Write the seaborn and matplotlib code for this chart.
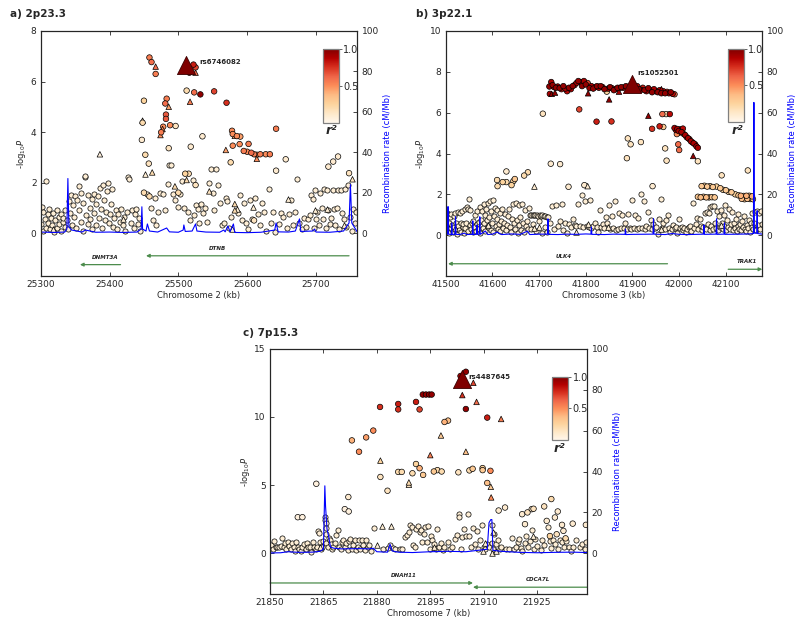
import numpy as np
import pandas as pd
import matplotlib
matplotlib.use('Agg')
import matplotlib.pyplot as plt
import seaborn as sns

# ---------------- panel a) 2p23.3 ----------------
a_sig_pos = [25458, 25461, 25467, 25467, 25522, 25525, 25525, 25516, 25512, 25523, 25532, 25552, 25570, 25517,
             25450, 25483, 25481, 25486, 25482, 25482, 25448, 25448, 25478, 25477, 25475, 25474, 25488, 25496,
             25447, 25535, 25518, 25486, 25386, 25642, 25578, 25579, 25582, 25585, 25590, 25569, 25579, 25589,
             25602, 25576, 25595, 25600, 25606, 25610, 25614, 25619, 25627, 25633, 25614, 25656, 25642, 25718,
             25732, 25725, 25753, 25748, 25462, 25457, 25452, 25450, 25458, 25510, 25515, 25512, 25525, 25495,
             25500, 25545, 25582, 25582, 25610]
a_sig_logp = [6.95, 6.77, 6.59, 6.30, 6.67, 6.56, 6.35, 6.35, 5.64, 5.57, 5.49, 5.61, 5.16, 5.20,
              5.24, 5.32, 5.13, 5.00, 4.69, 4.52, 4.45, 4.37, 4.21, 4.12, 3.99, 3.88, 4.27, 4.24,
              3.69, 3.83, 3.42, 3.36, 3.12, 4.13, 4.05, 3.92, 3.85, 3.84, 3.82, 3.29, 3.46, 3.52,
              3.53, 2.80, 3.25, 3.22, 3.18, 3.12, 3.10, 3.12, 3.12, 3.12, 2.94, 2.92, 2.47, 2.63,
              3.03, 2.83, 2.13, 2.37, 2.40, 2.75, 3.10, 1.60, 1.45, 2.35, 2.35, 2.10, 1.90, 1.85,
              1.60, 1.65, 0.90, 1.15, 0.50]
a_sig_r2 = [0.55, 0.60, 0.60, 0.55, 0.80, 0.70, 0.60, 0.90, 0.20, 0.60, 0.95, 0.70, 0.75, 0.55,
            0.25, 0.55, 0.60, 0.45, 0.65, 0.65, 0.15, 0.20, 0.50, 0.50, 0.55, 0.50, 0.50, 0.15,
            0.10, 0.10, 0.10, 0.15, 0.05, 0.55, 0.50, 0.50, 0.45, 0.50, 0.45, 0.45, 0.50, 0.50,
            0.55, 0.20, 0.55, 0.50, 0.60, 0.55, 0.50, 0.55, 0.50, 0.55, 0.50, 0.10, 0.10, 0.10,
            0.10, 0.10, 0.15, 0.15, 0.20, 0.15, 0.20, 0.20, 0.20, 0.25, 0.20, 0.20, 0.15, 0.20,
            0.20, 0.15, 0.20, 0.20, 0.15]
a_sig_kind = ['o', 'o', '^', 'o', 'o', 'o', '^', 'o', 'o', 'o', 'o', 'o', 'o', '^',
              'o', 'o', 'o', '^', 'o', 'o', '^', 'o', 'o', '^', 'o', '^', 'o', 'o',
              'o', 'o', 'o', 'o', '^', 'o', 'o', 'o', '^', 'o', 'o', '^', 'o', 'o',
              'o', 'o', 'o', 'o', 'o', 'o', 'o', 'o', 'o', 'o', '^', 'o', 'o', 'o',
              'o', 'o', '^', 'o', '^', 'o', 'o', 'o', 'o', 'o', 'o', '^', 'o', '^',
              'o', '^', '^', '^', 'o']
a_bg_pos = [25301, 25302, 25303, 25304, 25306, 25307, 25308, 25310, 25311, 25312, 25314, 25315, 25317, 25318,
            25320, 25321, 25323, 25324, 25326, 25327, 25329, 25330, 25332, 25333, 25335, 25336, 25338, 25340,
            25341, 25343, 25344, 25346, 25347, 25349, 25350, 25352, 25353, 25355, 25356, 25358, 25359, 25361,
            25362, 25364, 25365, 25366, 25368, 25369, 25371, 25372, 25374, 25375, 25377, 25378, 25380, 25381,
            25383, 25384, 25386, 25387, 25389, 25390, 25392, 25393, 25395, 25396, 25398, 25399, 25401, 25402,
            25404, 25405, 25407, 25409, 25411, 25413, 25415, 25417, 25419, 25421, 25423, 25425, 25427, 25429,
            25431, 25433, 25435, 25437, 25439, 25441, 25443, 25445,
            25454, 25460, 25463, 25466, 25468, 25471, 25474, 25478, 25481, 25485, 25487, 25490, 25492, 25495,
            25499, 25503, 25506, 25508, 25514, 25517, 25521, 25523, 25526, 25528, 25530, 25533, 25536, 25539,
            25542, 25544, 25547, 25550, 25552, 25554, 25557, 25560, 25563, 25566, 25569, 25571, 25574, 25577,
            25586, 25589, 25592, 25595, 25598, 25601, 25604, 25607, 25612, 25616, 25619, 25622, 25625, 25628,
            25631, 25634, 25637, 25640, 25646, 25649, 25652, 25658, 25661, 25664, 25667, 25670, 25673, 25676,
            25679, 25682, 25685, 25688,
            25691, 25693, 25695, 25697, 25699, 25700, 25702, 25704, 25706, 25708, 25710, 25712, 25714, 25716,
            25718, 25720, 25722, 25724, 25726, 25728, 25730, 25732, 25734, 25736, 25738, 25740, 25742, 25744,
            25746, 25749, 25752, 25754, 25756, 25758]
a_bg_logp = [0.35, 1.05, 0.10, 0.85, 0.55, 2.08, 0.20, 0.75, 0.40, 0.95, 0.15, 0.60, 0.30, 0.80,
             0.05, 0.50, 0.90, 0.20, 0.65, 0.35, 0.75, 0.10, 0.45, 0.60, 0.25, 0.90, 0.50, 0.15,
             1.25, 0.80, 1.50, 0.30, 1.10, 0.65, 1.45, 0.20, 1.30, 0.90, 1.85, 0.45, 1.60, 0.10,
             1.20, 2.20, 2.25, 0.70, 1.50, 0.35, 1.00, 0.55, 1.35, 0.15, 1.55, 0.80, 1.15, 0.30,
             1.45, 0.60, 1.80, 0.95, 0.20, 1.90, 1.30, 0.50, 0.85, 1.65, 2.00, 0.40, 0.75, 1.15,
             1.75, 0.25, 0.60, 0.90, 0.15, 0.75, 0.45, 0.95, 0.30, 0.65, 0.10, 0.85, 2.20, 2.15,
             0.40, 0.90, 0.20, 0.75, 0.95, 0.35, 0.60, 0.10,
             1.55, 1.00, 0.50, 1.40, 0.30, 0.85, 1.60, 1.55, 0.90, 1.95, 2.70, 2.70, 1.55, 1.30,
             1.05, 1.55, 2.05, 1.00, 0.85, 0.50, 2.10, 0.70, 1.10, 0.95, 0.40, 1.15, 0.80, 1.00,
             0.45, 2.00, 2.55, 1.60, 0.90, 2.55, 1.90, 1.20, 0.30, 0.40, 1.40, 1.25, 0.20, 0.65,
             0.80, 1.50, 0.50, 1.20, 0.40, 0.15, 1.30, 0.55, 1.40, 0.75, 0.30, 1.20, 0.85, 0.10,
             1.75, 0.40, 0.85, 0.05, 0.35, 0.80, 0.65, 0.20, 0.75, 1.30, 0.30, 0.85, 2.15, 0.40,
             0.15, 0.60, 0.25, 0.55,
             0.70, 1.50, 1.35, 0.20, 1.70, 0.55, 0.85, 0.30, 1.60, 1.00, 0.55, 1.75, 0.20, 1.70,
             0.90, 0.35, 0.60, 1.70, 0.95, 0.30, 1.00, 1.70, 0.15, 1.70, 0.80, 0.55, 1.75, 0.25,
             1.90, 0.65, 0.10, 0.95, 0.40, 0.85]
a_bgt_pos = [25318, 25420, 25452, 25585, 25578, 25608, 25660, 25698, 25716, 25740]
a_bgt_logp = [0.15, 0.55, 2.35, 0.95, 0.15, 1.05, 1.35, 0.90, 0.95, 0.30]
a_lead = (25511, 6.65)
a_rec_pos = [25300, 25320, 25335, 25338, 25339.5, 25341, 25345, 25360, 25365, 25380, 25400, 25420, 25440,
             25446, 25447, 25448, 25453, 25455, 25458, 25470, 25483, 25487, 25500, 25507, 25508, 25510,
             25520, 25525, 25527, 25540, 25560, 25566, 25568, 25572, 25575, 25580, 25582, 25600, 25620,
             25640, 25642, 25645, 25660, 25670, 25676, 25678, 25695, 25698, 25700, 25720, 25740, 25748,
             25750, 25752, 25760]
a_rec_rate = [0.5, 0.3, 0.5, 2.0, 27.0, 3.0, 1.5, 0.5, 1.5, 0.4, 0.5, 0.3, 0.5,
              2.0, 13.0, 2.0, 1.0, 4.5, 1.0, 0.5, 2.5, 0.6, 0.4, 1.5, 4.0, 0.8,
              1.0, 4.5, 1.0, 0.5, 0.4, 1.5, 0.6, 3.5, 0.7, 4.5, 0.3, 0.2, 0.4,
              1.5, 5.0, 0.6, 0.5, 1.0, 7.0, 0.8, 1.0, 2.0, 0.5, 0.4, 1.0, 5.0,
              24.0, 5.0, 0.5]
a_gene_names = ['DTNB', 'DNMT3A']
a_gene_start = [25453, 25357]
a_gene_end = [25748, 25416]
a_gene_strand = ['-', '-']

# ---------------- panel b) 3p22.1 ----------------
b_band_pos = [41722, 41726, 41729, 41732, 41736, 41740, 41744, 41748, 41752, 41756, 41760, 41764, 41768,
              41772, 41776, 41780, 41784, 41788, 41792, 41796, 41800, 41804, 41808, 41812, 41816, 41820,
              41824, 41828, 41832, 41836, 41840, 41845, 41848, 41852, 41856, 41860, 41864, 41868, 41872,
              41876, 41880, 41886, 41892, 41906, 41910, 41914, 41918, 41922, 41926, 41930, 41934, 41938,
              41942, 41946, 41950, 41954, 41958, 41962, 41966, 41970, 41974, 41978, 41982, 41986, 41990]
b_band_logp = [7.28, 7.50, 7.35, 7.25, 7.22, 7.28, 7.20, 7.15, 7.30, 7.18, 7.05, 7.22, 7.15,
               7.30, 7.35, 7.45, 7.55, 7.50, 7.30, 7.55, 7.38, 7.45, 7.20, 7.30, 7.18, 7.25,
               7.30, 7.22, 7.30, 7.25, 7.15, 7.03, 7.18, 7.25, 7.20, 7.10, 7.15, 7.22, 7.20,
               7.25, 7.22, 7.30, 7.25, 7.20, 7.30, 7.15, 7.12, 7.22, 7.10, 7.05, 7.20, 7.10,
               7.00, 7.15, 7.05, 7.00, 7.10, 6.95, 7.05, 6.95, 7.02, 6.95, 7.00, 6.92, 6.90]
b_band_r2 = [0.95, 0.90, 0.95, 0.85, 0.95, 0.90, 0.95, 0.80, 0.95, 0.90, 0.85, 0.95, 0.90,
             0.95, 0.80, 0.90, 0.95, 0.85, 0.95, 0.90, 0.95, 0.70, 0.95, 0.90, 0.95, 0.85,
             0.95, 0.90, 0.95, 0.85, 0.95, 0.25, 0.90, 0.95, 0.85, 0.95, 0.90, 0.95, 0.85,
             0.95, 0.90, 0.95, 0.90, 0.95, 0.85, 0.95, 0.90, 0.80, 0.95, 0.90, 0.95, 0.85,
             0.95, 0.90, 0.70, 0.95, 0.90, 0.95, 0.85, 0.95, 0.80, 0.90, 0.95, 0.85, 0.60]
b_sig_pos = [41727, 41734, 41723, 41805, 41850, 41871, 41934, 41962, 41786, 41823, 41855, 41708, 41942,
             41958, 41966, 41964, 41972, 41980, 41990, 41993, 41996, 41999, 42002, 42005, 42008, 42010,
             42013, 42016, 42019, 42022, 42025, 42028, 42031, 42034, 42037, 42040, 41995, 42000, 42030,
             41998, 42000, 42040, 41973, 41970, 41890, 41896, 41918, 41888, 41725, 41745, 41630, 41676,
             41668, 41610, 41622, 41630, 41648, 41645, 41611, 41641, 41690, 41763, 41797, 41804, 41943,
             42091, 42147, 42048, 42054, 42060, 42066, 42072, 42080, 42088, 42094, 42100, 42106, 42112,
             42120, 42127, 42040, 42046, 42052, 42058, 42064, 42070, 42076, 42132, 42138, 42144, 42150,
             42156, 42134, 42140, 42146, 42152, 42158]
b_sig_logp = [6.92, 6.98, 6.92, 6.95, 6.65, 7.03, 5.85, 7.15, 6.16, 5.56, 5.57, 5.95, 5.21,
              5.33, 5.30, 5.93, 5.93, 5.93, 5.25, 5.15, 5.20, 5.10, 5.18, 5.05, 5.22, 4.95,
              4.90, 4.80, 4.75, 4.70, 4.60, 4.55, 4.50, 4.45, 4.35, 4.28, 4.95, 5.02, 3.88,
              4.45, 4.17, 3.62, 3.65, 4.25, 4.74, 4.45, 4.56, 3.77, 3.50, 3.48, 3.12, 3.08,
              2.92, 2.70, 2.60, 2.60, 2.75, 2.65, 2.40, 2.45, 2.38, 2.37, 2.45, 2.40, 2.40,
              2.93, 3.17, 2.40, 2.42, 2.38, 2.40, 2.36, 2.38, 2.30, 2.22, 2.20, 2.12, 2.10,
              2.00, 1.95, 1.88, 1.85, 1.88, 1.85, 1.85, 1.86, 1.85, 1.93, 1.92, 1.93, 1.93,
              1.90, 1.78, 1.76, 1.78, 1.77, 1.76]
b_sig_r2 = [0.95, 0.95, 0.90, 0.95, 0.95, 0.90, 0.95, 0.90, 0.70, 0.80, 0.75, 0.15, 0.75,
            0.80, 0.30, 0.60, 0.20, 0.85, 0.90, 0.85, 0.90, 0.90, 0.80, 0.90, 0.85, 0.75,
            0.90, 0.85, 0.90, 0.80, 0.90, 0.85, 0.90, 0.85, 0.90, 0.90, 0.50, 0.45, 0.95,
            0.60, 0.60, 0.15, 0.15, 0.15, 0.15, 0.15, 0.15, 0.15, 0.10, 0.10, 0.10, 0.20,
            0.20, 0.20, 0.25, 0.20, 0.30, 0.25, 0.20, 0.25, 0.10, 0.10, 0.10, 0.10, 0.10,
            0.15, 0.15, 0.30, 0.25, 0.30, 0.25, 0.30, 0.25, 0.30, 0.25, 0.30, 0.25, 0.30,
            0.25, 0.30, 0.30, 0.35, 0.30, 0.35, 0.30, 0.30, 0.30, 0.40, 0.35, 0.40, 0.35,
            0.40, 0.35, 0.30, 0.35, 0.30, 0.35]
b_sig_kind = ['^', '^', 'o', '^', '^', '^', '^', '^', 'o', 'o', 'o', 'o', 'o',
              'o', 'o', 'o', 'o', 'o', 'o', 'o', 'o', 'o', 'o', 'o', 'o', 'o',
              'o', 'o', 'o', 'o', 'o', 'o', 'o', 'o', 'o', 'o', 'o', 'o', '^',
              'o', 'o', 'o', 'o', 'o', 'o', 'o', 'o', 'o', 'o', 'o', 'o', 'o',
              'o', 'o', 'o', 'o', 'o', 'o', 'o', 'o', '^', 'o', 'o', '^', 'o',
              'o', 'o', 'o', 'o', 'o', 'o', 'o', 'o', 'o', 'o', 'o', 'o', 'o',
              'o', 'o', 'o', 'o', 'o', 'o', 'o', 'o', 'o', 'o', 'o', 'o', 'o',
              'o', 'o', 'o', 'o', 'o', 'o']
b_bg_pos = [41502, 41503, 41505, 41506, 41508, 41509, 41511, 41512, 41514, 41515, 41517, 41518, 41520, 41521,
            41523, 41524, 41526, 41527, 41529, 41530, 41532, 41533, 41535, 41536, 41538, 41539, 41541, 41542,
            41544, 41545, 41547, 41548, 41550, 41551, 41553, 41554, 41556, 41558, 41559, 41561, 41562, 41564,
            41566, 41568, 41569, 41571, 41573, 41574, 41576, 41578, 41579, 41581, 41582, 41584, 41585, 41587,
            41588, 41590, 41591, 41593, 41594, 41596, 41598, 41599, 41601, 41602, 41604, 41605, 41607, 41609,
            41610, 41612, 41614, 41616, 41617, 41619, 41621, 41623, 41625, 41627, 41629, 41631, 41633, 41636,
            41638, 41640, 41642, 41644, 41646, 41648, 41650, 41652, 41654, 41656, 41658, 41660, 41662, 41664,
            41666, 41668, 41670, 41672, 41674, 41676, 41678,
            41680, 41683, 41686, 41689, 41692, 41695, 41698, 41701, 41704, 41707, 41710, 41713, 41716, 41719,
            41682, 41688, 41694, 41700, 41706, 41712, 41718, 41724, 41728, 41732, 41736, 41740, 41744, 41748,
            41752, 41756, 41760, 41764, 41768, 41772, 41776, 41780, 41784, 41788, 41792, 41795, 41799, 41802,
            41806, 41809, 41812, 41816, 41820, 41823, 41826, 41830, 41833, 41836, 41840, 41843, 41846, 41849,
            41852, 41856, 41859, 41862, 41865, 41868, 41872, 41875, 41878, 41881, 41884, 41888, 41891, 41894,
            41897, 41900, 41903, 41906, 41909, 41912, 41915, 41918, 41921, 41924, 41927, 41930, 41933, 41936,
            41939, 41942, 41945, 41948, 41951, 41954, 41957, 41960, 41963, 41966, 41969, 41972, 41975, 41978,
            41981, 41984, 41987, 41990, 41993, 41996, 41999, 42002, 42005, 42008, 42011, 42014, 42017, 42020,
            42023, 42026, 42029, 42032, 42035, 42038, 42041, 42044, 42046, 42049, 42052, 42055, 42057, 42059,
            42061, 42063, 42065, 42067, 42069, 42071, 42073, 42075, 42077, 42079, 42081, 42083, 42085, 42087,
            42089, 42091, 42093, 42095, 42097, 42099, 42101, 42103, 42105, 42107, 42109, 42111, 42113, 42115,
            42117, 42119, 42121, 42123, 42125, 42127, 42129, 42131, 42133, 42135, 42137, 42139, 42141, 42143,
            42145, 42147, 42149, 42151, 42153, 42155, 42157, 42159, 42161, 42163, 42165, 42167, 42169, 42171,
            42173, 42175, 42177]
b_bg_logp = [1.10, 0.55, 0.25, 0.60, 0.10, 0.90, 0.35, 1.05, 0.50, 0.15, 0.95, 0.40, 1.10, 0.20,
             0.60, 0.05, 1.15, 0.45, 0.25, 1.10, 0.60, 0.15, 1.20, 0.40, 0.55, 0.10, 1.30, 0.35,
             0.60, 1.40, 1.30, 0.20, 1.75, 0.50, 1.25, 0.30, 0.60, 0.15, 0.70, 0.40, 1.00, 0.20,
             0.55, 1.20, 0.30, 0.65, 1.40, 0.10, 0.75, 1.20, 0.35, 1.55, 0.60, 1.00, 0.20, 1.30,
             0.75, 1.60, 0.40, 0.90, 1.65, 0.25, 1.20, 0.60, 1.70, 0.15, 0.95, 1.35, 0.45, 0.80,
             1.25, 0.30, 0.55, 1.10, 0.20, 0.70, 1.30, 0.35, 0.60, 1.05, 0.25, 0.50, 0.95, 1.30,
             0.40, 0.15, 0.80, 1.55, 0.60, 0.30, 1.60, 0.75, 0.10, 1.50, 0.50, 0.90, 0.25, 1.55,
             0.60, 0.15, 1.25, 0.45, 0.70, 0.30, 1.35,
             0.98, 1.00, 0.97, 1.00, 0.98, 1.00, 0.96, 0.98, 0.95, 0.97, 0.94, 0.92, 0.90, 0.88,
             0.30, 0.55, 0.20, 0.70, 0.10, 0.40, 0.15, 0.60, 1.45, 0.30, 1.50, 0.45, 0.70, 1.55,
             0.25, 0.60, 0.10, 0.55, 0.40, 0.80, 0.50, 0.45, 1.55, 0.45, 1.95, 0.40, 1.65, 0.45,
             0.40, 1.70, 0.35, 0.45, 0.60, 0.40, 0.15, 1.25, 0.40, 0.55, 0.35, 0.90, 0.60, 1.50,
             0.30, 0.95, 0.35, 1.65, 0.25, 0.30, 1.10, 0.35, 1.00, 0.35, 0.60, 0.30, 1.05, 0.35,
             0.30, 1.70, 0.35, 1.00, 0.30, 0.85, 0.35, 2.00, 0.35, 1.65, 0.30, 0.45, 1.15, 0.35,
             0.75, 0.30, 0.55, 0.35, 0.40, 0.05, 0.80, 1.75, 0.35, 0.60, 0.30, 0.75, 1.00, 0.35,
             0.15, 0.30, 0.50, 0.35, 0.40, 0.10, 0.80, 0.35, 0.40, 0.25, 0.35, 0.15, 0.30, 0.40,
             0.45, 0.20, 1.60, 0.35, 0.55, 0.85, 0.30, 0.80, 0.45, 0.25, 0.40, 1.10, 0.30, 1.15,
             0.55, 1.10, 0.25, 1.40, 0.45, 1.45, 0.30, 1.45, 0.60, 0.35, 1.20, 0.25, 0.95, 0.40,
             1.25, 0.60, 0.30, 1.00, 0.45, 1.50, 0.25, 0.75, 0.40, 1.30, 0.30, 0.55, 1.15, 0.25,
             0.60, 0.35, 0.80, 0.20, 0.45, 1.05, 0.30, 0.55, 0.25, 0.70, 0.40, 0.95, 0.30, 0.20,
             0.50, 0.35, 0.75, 0.15, 0.60, 0.40, 1.10, 0.30, 0.60, 1.15, 0.25, 1.20, 0.50, 1.10,
             0.30, 1.20, 0.55]
b_bgt_pos = [41520, 41590, 41700, 41805, 41848, 41960, 42090, 41780, 41690]
b_bgt_logp = [0.35, 0.50, 0.40, 0.55, 0.40, 0.30, 0.50, 0.15, 0.35]
b_lead = (41898, 7.42)
b_rec_pos = [41500, 41504, 41505, 41506, 41512, 41513, 41514, 41520, 41521, 41522, 41530, 41540, 41545,
             41557, 41558, 41559, 41566, 41567, 41568, 41572, 41573, 41574, 41585, 41590, 41600, 41610,
             41620, 41640, 41660, 41675, 41680, 41700, 41718, 41719, 41720, 41740, 41760, 41780, 41800,
             41811, 41812, 41813, 41840, 41860, 41884, 41885, 41886, 41900, 41944, 41945, 41946, 41970,
             41985, 42000, 42020, 42052, 42053, 42054, 42075, 42079, 42080, 42081, 42096, 42097, 42098,
             42130, 42150, 42159, 42160, 42161, 42166, 42167, 42168, 42178]
b_rec_rate = [0.5, 0.5, 14.0, 0.5, 0.3, 6.0, 0.3, 0.5, 9.0, 0.4, 0.3, 1.0, 0.3,
              0.4, 7.0, 0.3, 0.5, 5.0, 0.4, 0.5, 9.0, 0.4, 2.0, 0.3, 0.5, 1.5,
              0.3, 0.6, 0.4, 2.0, 0.3, 0.5, 0.5, 8.0, 0.4, 0.3, 0.5, 0.4, 0.6,
              0.5, 4.0, 0.4, 0.3, 0.5, 0.4, 3.0, 0.3, 0.4, 0.5, 8.0, 0.5, 0.3,
              0.8, 0.4, 0.3, 0.5, 5.0, 0.4, 0.5, 0.5, 8.0, 0.4, 0.5, 6.0, 0.4,
              0.5, 0.6, 0.8, 65.0, 1.0, 1.0, 12.0, 0.8, 0.5]
b_gene_names = ['ULK4', 'TRAK1']
b_gene_start = [41505, 42105]
b_gene_end = [41975, 42178]
b_gene_strand = ['-', '+']

# ---------------- panel c) 7p15.3 ----------------
c_sig_pos = [21905.0, 21903.5, 21907.1, 21892.9, 21893.8, 21894.7, 21895.4, 21904.0, 21908.0, 21891.0, 21886.0,
             21886.0, 21892.0, 21880.9, 21905.0, 21911.0, 21914.9, 21879.0, 21877.0, 21873.0, 21875.0, 21899.0,
             21900.0, 21898.0, 21895.0, 21905.0, 21881.0, 21881.0, 21886.0, 21887.0, 21891.0, 21892.0, 21893.0,
             21890.0, 21896.0, 21897.0, 21898.2, 21902.9, 21906.0, 21906.9, 21909.7, 21909.7, 21911.9, 21911.0,
             21912.0, 21912.1, 21889.0, 21889.0, 21883.0, 21863.0, 21914.2, 21916.0, 21872.0, 21871.0, 21872.1,
             21857.8, 21859.1, 21927.0, 21929.0, 21927.7, 21930.0, 21930.8, 21932.0, 21935.0, 21938.7, 21920.8,
             21922.3, 21923.5, 21924.0, 21921.6, 21932.4, 21930.5, 21928.6, 21933.0]
c_sig_logp = [13.31, 13.00, 12.50, 11.64, 11.64, 11.64, 11.64, 11.60, 11.10, 11.10, 10.95,
              10.55, 10.55, 10.73, 10.58, 9.95, 9.85, 9.00, 8.50, 8.28, 7.45, 9.63,
              9.73, 8.64, 7.20, 7.45, 6.80, 5.60, 5.97, 5.97, 6.55, 6.24, 5.75,
              5.87, 6.00, 6.10, 6.00, 5.94, 6.08, 6.20, 6.25, 6.10, 6.05, 5.16,
              4.88, 4.10, 5.20, 5.03, 4.59, 5.10, 3.14, 3.36, 4.13, 3.24, 3.07,
              2.65, 2.65, 3.44, 3.98, 2.38, 2.63, 3.07, 2.09, 2.18, 2.09, 2.87,
              3.00, 3.24, 3.27, 2.14, 1.65, 1.40, 1.27, 1.10]
c_sig_r2 = [0.95, 0.90, 0.70, 0.95, 0.95, 0.95, 0.95, 0.75, 0.60, 0.80, 0.80,
            0.75, 0.70, 0.75, 0.95, 0.80, 0.55, 0.50, 0.45, 0.40, 0.50, 0.40,
            0.35, 0.30, 0.55, 0.35, 0.25, 0.15, 0.20, 0.20, 0.25, 0.40, 0.30,
            0.20, 0.30, 0.20, 0.20, 0.15, 0.20, 0.30, 0.25, 0.30, 0.50, 0.35,
            0.30, 0.50, 0.20, 0.15, 0.15, 0.05, 0.10, 0.10, 0.10, 0.05, 0.05,
            0.05, 0.05, 0.15, 0.20, 0.10, 0.10, 0.10, 0.10, 0.10, 0.10, 0.10,
            0.15, 0.10, 0.15, 0.10, 0.10, 0.15, 0.25, 0.20]
c_sig_kind = ['o', 'o', '^', 'o', 'o', 'o', 'o', '^', '^', 'o', 'o',
              'o', 'o', 'o', 'o', 'o', '^', 'o', 'o', 'o', 'o', 'o',
              'o', '^', '^', '^', '^', 'o', 'o', 'o', 'o', 'o', 'o',
              'o', 'o', 'o', 'o', 'o', 'o', 'o', 'o', 'o', 'o', 'o',
              '^', '^', '^', '^', 'o', 'o', 'o', 'o', 'o', 'o', 'o',
              'o', 'o', 'o', 'o', 'o', 'o', 'o', 'o', 'o', 'o', 'o',
              'o', 'o', 'o', 'o', 'o', 'o', 'o', 'o']
c_bg_pos = [21850.3, 21850.8, 21851.2, 21851.6, 21852.0, 21852.5, 21853.0, 21853.4, 21853.8, 21854.2, 21854.6,
            21855.0, 21855.4, 21855.8, 21856.2, 21856.6, 21857.0, 21857.4, 21857.8, 21858.2, 21858.6, 21859.0,
            21859.5, 21860.0, 21860.4, 21860.8, 21861.2, 21861.6, 21862.0, 21862.4, 21862.8, 21863.2, 21863.5,
            21863.7, 21864.0, 21864.3, 21864.6, 21865.0, 21865.4, 21865.5, 21865.6, 21865.6, 21865.7, 21865.8,
            21866.2, 21866.5, 21866.8, 21867.0, 21867.4, 21867.8, 21868.2, 21868.6, 21869.0, 21869.4, 21869.8,
            21870.2, 21870.6, 21871.0, 21871.4, 21871.8, 21872.2, 21872.6, 21873.0, 21873.4, 21873.8, 21874.2,
            21874.6, 21875.0, 21875.4, 21875.8, 21876.2, 21876.6, 21877.0, 21877.4, 21877.8, 21878.4, 21879.1,
            21881.8, 21883.0, 21883.6, 21884.4, 21885.0, 21886.6, 21887.2, 21888.0, 21888.5, 21889.0, 21889.4,
            21889.8, 21890.2, 21890.6, 21891.0, 21891.6, 21892.0, 21892.4, 21892.8, 21893.2, 21893.6, 21894.0,
            21894.4, 21894.8, 21895.2, 21895.6, 21896.0, 21896.5, 21897.0, 21897.4, 21898.0, 21898.5, 21899.0,
            21900.0, 21900.5, 21901.0, 21902.0, 21902.5, 21903.0, 21903.0, 21903.5, 21904.0, 21904.5, 21905.0,
            21905.5, 21906.0, 21906.5, 21907.0, 21907.5, 21908.0, 21908.5, 21909.0, 21909.5, 21910.0, 21910.5,
            21911.0, 21911.5, 21912.2, 21912.2, 21912.6, 21913.0, 21913.5, 21914.0, 21914.6, 21915.0, 21916.2,
            21917.0, 21918.0, 21918.5, 21919.0, 21919.5, 21920.0, 21920.4, 21920.8, 21921.5, 21922.0, 21922.5,
            21923.0, 21923.5, 21924.0, 21924.5, 21925.0, 21926.0, 21926.5, 21927.0, 21928.0, 21928.5, 21929.0,
            21929.5, 21930.0, 21931.0, 21931.5, 21932.0, 21932.5, 21933.0, 21934.0, 21934.5, 21935.0, 21936.0,
            21937.0, 21937.5, 21938.5, 21938.8]
c_bg_logp = [0.60, 0.35, 0.90, 0.45, 0.50, 0.45, 0.55, 1.10, 0.45, 0.75, 0.30,
             0.85, 0.55, 0.35, 0.75, 0.45, 0.20, 0.80, 0.50, 0.35, 0.15, 0.45,
             0.70, 0.35, 0.75, 0.50, 0.45, 0.10, 0.85, 0.50, 0.30, 0.45, 1.65,
             1.50, 0.85, 0.35, 0.50, 0.90, 2.70, 2.45, 2.20, 1.85, 1.40, 0.75,
             0.45, 1.10, 0.95, 0.65, 0.30, 0.50, 0.75, 1.35, 1.70, 0.50, 0.30,
             0.85, 1.00, 0.45, 0.75, 0.25, 0.90, 1.05, 0.35, 0.60, 1.00, 0.25,
             0.45, 0.95, 0.35, 1.00, 0.60, 0.25, 1.00, 0.45, 0.60, 0.20, 1.85,
             0.35, 0.40, 0.60, 0.40, 0.30, 0.35, 0.35, 1.20, 1.35, 1.60, 2.10,
             1.95, 0.60, 0.45, 1.75, 2.00, 1.60, 1.70, 0.80, 1.45, 1.95, 0.85,
             2.00, 0.30, 1.25, 1.00, 0.65, 0.35, 1.80, 0.45, 0.75, 0.25, 0.50,
             0.85, 0.35, 0.50, 1.05, 1.35, 2.85, 2.70, 0.30, 1.20, 1.75, 1.30,
             2.90, 1.30, 0.45, 1.85, 0.70, 1.65, 0.30, 0.95, 2.05, 0.45, 0.30,
             0.65, 0.45, 2.10, 0.75, 0.30, 1.40, 0.65, 1.00, 0.30, 0.45, 0.35,
             0.30, 1.10, 0.35, 0.50, 0.85, 1.05, 0.40, 0.20, 0.75, 1.25, 0.50,
             0.90, 1.70, 0.30, 1.05, 0.55, 0.25, 1.00, 0.60, 1.90, 0.90, 0.40,
             1.00, 0.65, 0.30, 1.00, 0.85, 0.50, 0.90, 0.50, 0.20, 0.50, 0.95,
             0.50, 0.65, 0.35, 0.85]
c_bgt_pos = [21881.5, 21883.9, 21896.0, 21909.9, 21910.5, 21912.3, 21912.5, 21913.5, 21923.8, 21864.0, 21880.0]
c_bgt_logp = [2.00, 2.00, 0.45, 0.20, 0.75, 0.00, 1.55, 0.20, 1.30, 0.45, 0.60]
c_lead = (21904.0, 12.75)
c_rec_pos = [21850, 21853, 21855, 21858, 21862, 21864, 21865, 21865.4, 21865.6, 21866, 21866.5, 21867,
             21868, 21870, 21875, 21878, 21879, 21880, 21883, 21883.7, 21884.3, 21886, 21890, 21895,
             21900, 21905, 21910, 21911, 21911.5, 21912, 21912.3, 21912.6, 21915, 21920, 21925, 21930,
             21935, 21939]
c_rec_rate = [0.2, 0.3, 0.8, 0.5, 0.6, 1.0, 2.0, 33.0, 23.0, 12.0, 8.0, 3.0,
              2.5, 2.2, 2.3, 2.2, 2.5, 0.8, 0.6, 4.5, 1.2, 0.6, 0.4, 0.8,
              1.0, 0.8, 1.8, 2.0, 15.0, 16.5, 16.5, 1.5, 1.0, 0.5, 0.3, 0.5,
              0.6, 0.4]
c_gene_names = ['DNAH11', 'CDCA7L']
c_gene_start = [21850, 21907]
c_gene_end = [21907, 21939]
c_gene_strand = ['+', '-']

BG_R2 = 0.08
GENE_GREEN = '#4c8c4c'

sns.set_style('ticks')
plt.rcParams['font.family'] = ['DejaVu Sans']
cmap = plt.get_cmap('OrRd')

fig = plt.figure(figsize=(8, 6.25), dpi=100)


def draw_panel(rect, title, title_xy, chrom, xlim, ylim, xticks, yticks,
               sig, bg, bgt, lead, rec, genes, gene_rows, gene_label_x,
               cbar_rect, r2_xy):
    ax = fig.add_axes(rect)
    bg_df = pd.DataFrame({'pos': bg[0], 'logp': bg[1]})
    sns.scatterplot(data=bg_df, x='pos', y='logp', color=cmap(BG_R2), marker='o', s=14,
                    edgecolor='black', linewidth=0.5, ax=ax, legend=False, zorder=2)
    bgt_df = pd.DataFrame({'pos': bgt[0], 'logp': bgt[1]})
    sns.scatterplot(data=bgt_df, x='pos', y='logp', color=cmap(BG_R2), marker='^', s=16,
                    edgecolor='black', linewidth=0.5, ax=ax, legend=False, zorder=2)
    sig_df = pd.DataFrame({'pos': sig[0], 'logp': sig[1], 'r2': sig[2], 'kind': sig[3]})
    sig_df = sig_df.sort_values('r2', kind='stable')
    sns.scatterplot(data=sig_df, x='pos', y='logp', hue='r2', palette='OrRd', hue_norm=(0, 1),
                    style='kind', markers={'o': 'o', '^': '^'}, s=16, edgecolor='black',
                    linewidth=0.5, ax=ax, legend=False, zorder=3)
    # index SNP
    sns.scatterplot(x=[lead[0]], y=[lead[1]], color=cmap(1.0), marker='^', s=170,
                    edgecolor='#3a0000', linewidth=0.6, ax=ax, legend=False, zorder=4)

    ax.set_xlim(xlim)
    ax.set_ylim(ylim)
    ax.set_xticks(xticks)
    ax.set_xticklabels([str(t) for t in xticks])
    ax.set_yticks(yticks)
    ax.set_xlabel(f'Chromosome {chrom} (kb)', fontsize=6, labelpad=1)
    ax.set_ylabel(r'-log$_{10}P$', fontsize=6, labelpad=2)
    ax.tick_params(direction='in', top=True, right=False, length=3, width=0.6,
                   labelsize=6.5, pad=3)
    for sp in ax.spines.values():
        sp.set_linewidth(0.8)
        sp.set_color('black')

    # genes
    for name, start, end, strand, row, lab in zip(genes[0], genes[1], genes[2], genes[3],
                                                  gene_rows, gene_label_x):
        head, tail = (start, end) if strand == '-' else (end, start)
        ax.annotate('', xy=(head, row), xytext=(tail, row),
                    arrowprops=dict(arrowstyle='-|>', color=GENE_GREEN, lw=0.9,
                                    mutation_scale=5, shrinkA=0, shrinkB=0), zorder=2)
        ax.text(lab, row + 0.2 * (ylim[1] / 8), name, fontsize=4, fontweight='bold',
                fontstyle='italic', ha='center', va='bottom')

    # recombination rate
    ax2 = ax.twinx()
    sns.lineplot(x=rec[0], y=rec[1], color='blue', lw=0.8, estimator=None, sort=False,
                 ax=ax2, legend=False)
    ax2.set_ylim(ylim[0] * 100 / ylim[1], 100)
    ax2.set_yticks([0, 20, 40, 60, 80, 100])
    ax2.set_ylabel('Recombination rate (cM/Mb)', color='blue', fontsize=6, labelpad=3)
    ax2.tick_params(direction='in', length=3, width=0.6, labelsize=6.5, pad=3)
    for sp in ax2.spines.values():
        sp.set_linewidth(0.8)

    # r2 colour bar
    cax = fig.add_axes(cbar_rect)
    cb = fig.colorbar(plt.cm.ScalarMappable(norm=plt.Normalize(0, 1), cmap='OrRd'), cax=cax,
                      ticks=[0.5, 1.0])
    cb.ax.set_yticklabels(['0.5', '1.0'])
    cb.ax.tick_params(direction='out', length=2, width=0.5, labelsize=7, pad=1)
    cb.outline.set_edgecolor('#808080')
    cb.outline.set_linewidth(0.9)
    fig.text(r2_xy[0], r2_xy[1], 'r²', fontsize=9, fontweight='bold', fontstyle='italic',
             ha='center', va='center')

    fig.text(title_xy[0], title_xy[1], title, fontsize=7.5, fontweight='bold', va='center')
    return ax


ax_a = draw_panel([40.7 / 800, 1 - 276 / 625, 316.6 / 800, 245 / 625], 'a) 2p23.3',
                  (10 / 800, 1 - 14 / 625), 2, (25300, 25760), (-1.7, 8),
                  [25300, 25400, 25500, 25600, 25700], [0, 2, 4, 6, 8],
                  (a_sig_pos, a_sig_logp, a_sig_r2, a_sig_kind), (a_bg_pos, a_bg_logp),
                  (a_bgt_pos, a_bgt_logp), a_lead, (a_rec_pos, a_rec_rate),
                  (a_gene_names, a_gene_start, a_gene_end, a_gene_strand), [-0.9, -1.25],
                  [25557, 25394], [323 / 800, 1 - 122.7 / 625, 16 / 800, 74 / 625],
                  (331 / 800, 1 - 130 / 625))
ax_a.text(25530, 6.77, 'rs6746082', fontsize=5, fontweight='bold', va='center', zorder=5)

b_sig_all = (b_band_pos + b_sig_pos, b_band_logp + b_sig_logp, b_band_r2 + b_sig_r2,
             ['o'] * len(b_band_pos) + b_sig_kind)
ax_b = draw_panel([445.7 / 800, 1 - 276 / 625, 316.6 / 800, 245 / 625], 'b) 3p22.1',
                  (416 / 800, 1 - 14 / 625), 3, (41500, 42178), (-2, 10),
                  [41500, 41600, 41700, 41800, 41900, 42000, 42100], [0, 2, 4, 6, 8, 10],
                  b_sig_all, (b_bg_pos, b_bg_logp), (b_bgt_pos, b_bgt_logp), b_lead,
                  (b_rec_pos, b_rec_rate), (b_gene_names, b_gene_start, b_gene_end, b_gene_strand),
                  [-1.4, -1.67], [41753, 42145],
                  [728 / 800, 1 - 121.7 / 625, 16 / 800, 72.7 / 625], (737 / 800, 1 - 130 / 625))
ax_b.text(41911, 7.96, 'rs1052501', fontsize=5, fontweight='bold', va='center', zorder=5)

ax_c = draw_panel([270 / 800, 1 - 594.3 / 625, 317.3 / 800, 245.6 / 625], 'c) 7p15.3',
                  (243 / 800, 1 - 332.5 / 625), 7, (21850, 21939.1), (-3, 15),
                  [21850, 21865, 21880, 21895, 21910, 21925], [0, 5, 10, 15],
                  (c_sig_pos, c_sig_logp, c_sig_r2, c_sig_kind), (c_bg_pos, c_bg_logp),
                  (c_bgt_pos, c_bgt_logp), c_lead, (c_rec_pos, c_rec_rate),
                  (c_gene_names, c_gene_start, c_gene_end, c_gene_strand), [-2.17, -2.48],
                  [21887.5, 21925.2], [552.3 / 800, 1 - 440 / 625, 16 / 800, 63.3 / 625],
                  (559 / 800, 1 - 448 / 625))
ax_c.text(21905.6, 12.94, 'rs4487645', fontsize=5, fontweight='bold', va='center', zorder=5)

fig.savefig('out.png', dpi=100, facecolor='white')
